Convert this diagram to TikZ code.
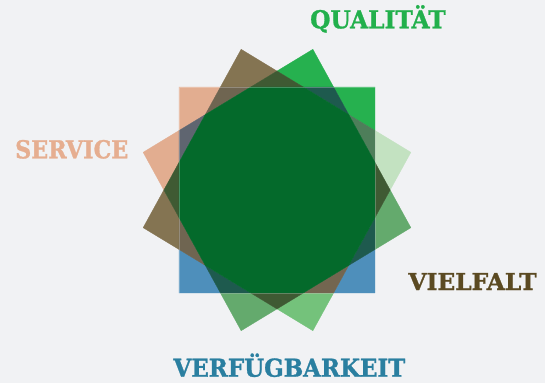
\documentclass[tikz,border=0pt]{standalone}
\usepackage{fontspec}
\newfontfamily\slab{DejaVu Serif}[FakeBold=1.2]
\definecolor{bg}{HTML}{F1F2F4}
\definecolor{dg}{HTML}{046A2B}
\definecolor{bgreen}{HTML}{26B14F}
\definecolor{lgA}{HTML}{C3E2C1}
\definecolor{lgB}{HTML}{74C27B}
\definecolor{mg}{HTML}{64AA6D}
\definecolor{brn}{HTML}{847452}
\definecolor{org}{HTML}{E2AD90}
\definecolor{blu}{HTML}{4E8FBB}
\definecolor{olv}{HTML}{3F5A33}
\definecolor{ggr}{HTML}{4E7E5A}
\definecolor{tl}{HTML}{1E5A4E}
\definecolor{bgA}{HTML}{6F6551}
\definecolor{bgB}{HTML}{736650}
\definecolor{gbl}{HTML}{5F6570}
\definecolor{tq}{HTML}{22B04C}
\definecolor{ts}{HTML}{E6AE90}
\definecolor{tv}{HTML}{5B4A22}
\definecolor{tf}{HTML}{2A7FA0}
\tikzset{
  rg/.style={fill=#1,draw=#1,line width=0.3pt,line join=round},
  lbl/.style={font=\slab\bfseries\fontsize{23.3}{28}\selectfont, inner sep=0pt, anchor=base west}
}
\begin{document}
\begin{tikzpicture}[x=1pt,y=1pt]
\fill[bg] (0,0) rectangle (545,-383);
\useasboundingbox (0,0) rectangle (545,-383);
\begin{scope}[shift={(277pt,-190pt)}, x=98pt, y=103pt]
  \foreach \a in {15,45,...,345} {
    \coordinate (D\a) at (\a:1.03528);
    \coordinate (P\a) at (\a:1.41421);
  }
  \foreach \a in {0,30,...,330} {
    \coordinate (N\a) at (\a:1.1547);
  }
  % star points
  \filldraw[rg=lgA] (P15) -- (N30) -- (D15) -- (N0) -- cycle;
  \filldraw[rg=bgreen] (P45) -- (N60) -- (D45) -- (N30) -- cycle;
  \filldraw[rg=bgreen] (P75) -- (N90) -- (D75) -- (N60) -- cycle;
  \filldraw[rg=brn] (P105) -- (N120) -- (D105) -- (N90) -- cycle;
  \filldraw[rg=org] (P135) -- (N150) -- (D135) -- (N120) -- cycle;
  \filldraw[rg=org] (P165) -- (N180) -- (D165) -- (N150) -- cycle;
  \filldraw[rg=brn] (P195) -- (N210) -- (D195) -- (N180) -- cycle;
  \filldraw[rg=blu] (P225) -- (N240) -- (D225) -- (N210) -- cycle;
  \filldraw[rg=mg] (P255) -- (N270) -- (D255) -- (N240) -- cycle;
  \filldraw[rg=lgB] (P285) -- (N300) -- (D285) -- (N270) -- cycle;
  \filldraw[rg=blu] (P315) -- (N330) -- (D315) -- (N300) -- cycle;
  \filldraw[rg=mg] (P345) -- (N0) -- (D345) -- (N330) -- cycle;
  % overlap triangles
  \filldraw[rg=olv] (N0) -- (D15) -- (D345) -- cycle;
  \filldraw[rg=ggr] (N30) -- (D45) -- (D15) -- cycle;
  \filldraw[rg=tl] (N60) -- (D75) -- (D45) -- cycle;
  \filldraw[rg=olv] (N90) -- (D105) -- (D75) -- cycle;
  \filldraw[rg=bgA] (N120) -- (D135) -- (D105) -- cycle;
  \filldraw[rg=gbl] (N150) -- (D165) -- (D135) -- cycle;
  \filldraw[rg=olv] (N180) -- (D195) -- (D165) -- cycle;
  \filldraw[rg=bgA] (N210) -- (D225) -- (D195) -- cycle;
  \filldraw[rg=tl] (N240) -- (D255) -- (D225) -- cycle;
  \filldraw[rg=olv] (N270) -- (D285) -- (D255) -- cycle;
  \filldraw[rg=bgB] (N300) -- (D315) -- (D285) -- cycle;
  \filldraw[rg=tl] (N330) -- (D345) -- (D315) -- cycle;
  % centre
  \filldraw[rg=dg] (D15) -- (D45) -- (D75) -- (D105) -- (D135) -- (D165) -- (D195) -- (D225) -- (D255) -- (D285) -- (D315) -- (D345) -- cycle;
  % faint outline of the upright square
  \draw[white, opacity=0.25, line width=0.5pt] (-1,-1) rectangle (1,1);
\end{scope}
\node[lbl, text=tq] (qual) at (310,-28.3) {\scalebox{1.0}[1.06]{QUALITÄT}};
\node[lbl, text=ts] (serv) at (15,-158.3) {\scalebox{0.955}[1.06]{SERVICE}};
\node[lbl, text=tv] (viel) at (408.3,-290) {\scalebox{1.0}[1.0]{VIELFALT}};
\node[lbl, text=tf] (verf) at (173.3,-376.7) {\scalebox{0.985}[1.06]{VERFÜGBARKEIT}};
\end{tikzpicture}
\end{document}
